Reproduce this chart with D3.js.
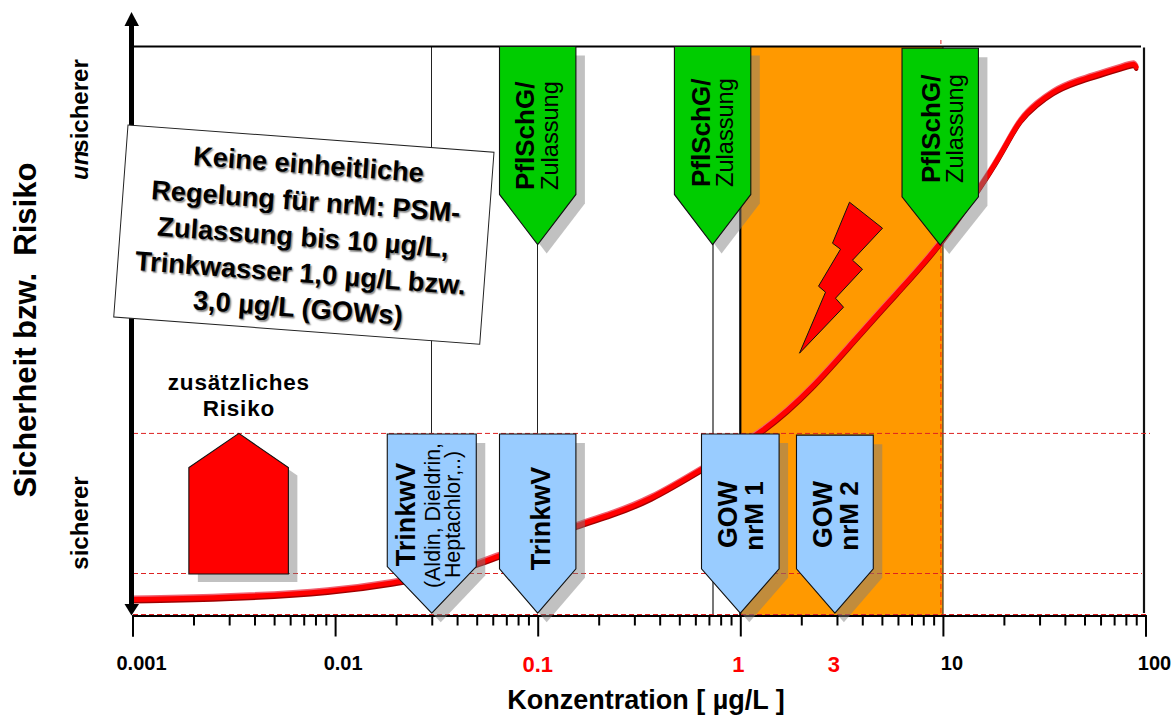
<!DOCTYPE html>
<html><head><meta charset="utf-8">
<script src="https://cdn.jsdelivr.net/npm/d3@7"></script>
<style>
html,body{margin:0;padding:0;background:#fff}
svg{display:block}
text{font-family:"Liberation Sans",Arial,sans-serif;fill:#000}
.b{font-weight:700}
</style></head><body>
<div id="chart"></div>
<script>
// ---- data ----
const curveConc = [0.001,0.003,0.01,0.02,0.03,0.05,0.065,0.1,0.156,0.226,0.358,0.632,1.355,2.29,3.6,5.93,9.6,15.2,17.7,20.7,24,29.1,34.9,42.4,83.8,88,90];
const curveRisk = [2.8,3.1,4.2,5.8,7,8.9,10.6,13,15.9,17.6,20.3,25.5,32.6,40.1,48.1,56.7,64.8,75.2,78.8,83,87.2,90,92,93.6,96.8,97,96.4];
const majorTicks = [0.001,0.01,0.1,1,10,100];
const minorMultiples = [2,3,4,5,6,7,8,9];
const tickLabels = ["0.001","0.01","0.1","1","3","10","100"];
const tickLabelConc = [0.001,0.01,0.1,1,3,10,100];
const tickLabelRed = [false,false,true,true,true,false,false];
const tickLabelDx = [9,8,0,-2,-3,9,9];
const refRisk = [32,7.38,0];
const greenTips = [0.1,0.73,9.7];
const blueTips = [0.03,0.1,1,2.93];
const greenLines = [["PflSchG/","Zulassung"],["PflSchG/","Zulassung"],["PflSchG/","Zulassung"]];
const blueLines = [["TrinkwV","(Aldin, Dieldrin,","Heptachlor,..)"],["TrinkwV"],["GOW","nrM 1"],["GOW","nrM 2"]];
const boxLines = ["Keine einheitliche","Regelung für nrM: PSM-","Zulassung bis 10 µg/L,","Trinkwasser 1,0 µg/L bzw.","3,0 µg/L (GOWs)"];
const thinLineConc = [0.03,0.1,0.73];
const bandConc = [1,10];

const W=1173,H=715;
const svg=d3.select("#chart").append("svg").attr("width",W).attr("height",H);
const x=d3.scaleLog().domain([0.001,100]).range([132.5,1145.5]);
const y=d3.scaleLinear().domain([0,100]).range([615.5,46.5]);
const top_=y(100), bot=y(0);

// orange band
svg.append("rect").attr("x",x(bandConc[0])).attr("y",top_).attr("width",x(bandConc[1])-x(bandConc[0])).attr("height",bot-top_).attr("fill","#ff9900");
svg.append("line").attr("x1",x(1)).attr("x2",x(1)).attr("y1",top_).attr("y2",bot).attr("stroke","#000").attr("stroke-width",2.2);
svg.append("line").attr("x1",x(10)).attr("x2",x(10)).attr("y1",top_).attr("y2",bot).attr("stroke","#6b5a30").attr("stroke-width",1.6);
svg.append("line").attr("x1",x(10)-2).attr("x2",x(10)-2).attr("y1",y(66)).attr("y2",bot).attr("stroke","#ff2a00").attr("stroke-width",1).attr("stroke-dasharray","5 3");
svg.append("line").attr("x1",x(10)-2).attr("x2",x(10)-2).attr("y1",40).attr("y2",44).attr("stroke","#d22").attr("stroke-width",1);

// thin verticals
svg.append("line").attr("x1",x(thinLineConc[0])).attr("x2",x(thinLineConc[0])).attr("y1",top_).attr("y2",y(32)).attr("stroke","#222").attr("stroke-width",1).attr("shape-rendering","crispEdges");
svg.append("line").attr("x1",x(thinLineConc[1])).attr("x2",x(thinLineConc[1])).attr("y1",top_).attr("y2",y(32)).attr("stroke","#222").attr("stroke-width",1).attr("shape-rendering","crispEdges");
svg.append("line").attr("x1",x(thinLineConc[2])).attr("x2",x(thinLineConc[2])).attr("y1",top_).attr("y2",bot).attr("stroke","#777").attr("stroke-width",2).attr("shape-rendering","crispEdges");

// frame
svg.append("line").attr("x1",133).attr("x2",1141).attr("y1",top_).attr("y2",top_).attr("stroke","#000").attr("stroke-width",2);
svg.append("line").attr("x1",1144).attr("x2",1144).attr("y1",top_+1).attr("y2",613).attr("stroke","#111").attr("stroke-width",2.2);

// reference dashed lines
const refEnd=[1150,1142,1146];
refRisk.forEach((r,i)=>{
  svg.append("line").attr("x1",133).attr("x2",refEnd[i]).attr("y1",y(r)-(i==2?1:0)).attr("y2",y(r)-(i==2?1:0))
    .attr("stroke","#d22").attr("stroke-width",1).attr("stroke-dasharray","5 3");
});

// x axis
const minorVals=[];
majorTicks.slice(0,-1).forEach(m=>minorMultiples.forEach(k=>minorVals.push(m*k)));
const gMin=svg.append("g").attr("transform",`translate(0,${bot})`).call(d3.axisBottom(x).tickValues(minorVals).tickSize(10).tickFormat(""));
const gMaj=svg.append("g").attr("transform",`translate(0,${bot})`).call(d3.axisBottom(x).tickValues(majorTicks).tickSize(21).tickFormat(""));
[gMin,gMaj].forEach(g=>{g.selectAll("line").attr("stroke","#000").attr("stroke-width",2);g.select(".domain").attr("stroke","#000").attr("stroke-width",2);});

// curve
const line=d3.line().x((d,i)=>x(curveConc[i])).y((d,i)=>y(curveRisk[i])).curve(d3.curveBasis);
const curveG=svg.append("g").attr("fill","none").attr("stroke-linecap","round").attr("stroke-linejoin","round");
curveG.append("path").attr("d",line(curveRisk)).attr("stroke","#f06070").attr("stroke-width",4).attr("transform","translate(0,-2)");
curveG.append("path").attr("d",line(curveRisk)).attr("stroke","#a00000").attr("stroke-width",4).attr("transform","translate(0,2)");
curveG.append("path").attr("d",line(curveRisk)).attr("stroke","#ff0000").attr("stroke-width",5);

// pentagon helper
function penta(cx,hw,topY,shoulderY,tipY){
  return d3.line()([[cx-hw,topY],[cx+hw,topY],[cx+hw,shoulderY],[cx,tipY],[cx-hw,shoulderY]])+"Z";
}
function drawPenta(d,fill){
  svg.append("path").attr("d",d).attr("fill","#7d7d7d").attr("fill-opacity",.48).attr("transform","translate(9,9)");
  svg.append("path").attr("d",d).attr("fill",fill).attr("stroke","#111").attr("stroke-width",1.1);
}
function vtext(xb,yc,str,size,bold,anchor){
  return svg.append("text").attr("transform",`translate(${xb},${yc}) rotate(-90)`)
    .attr("text-anchor",anchor||"middle").attr("font-size",size).attr("class",bold?"b":null).text(str);
}

// green markers
const gTop=[y(100),y(100),y(99.7)], gTip=[y(65.2),y(65.2),y(65.1)], gShoulder=[y(74),y(74),y(73.6)];
const gText=[[-4,20,190],[-3,20,187],[0,23,183]];
greenTips.forEach((c,i)=>{
  const cx=x(c);
  drawPenta(penta(cx,38.2,gTop[i],gShoulder[i],gTip[i]),"#00cc00");
  vtext(cx+gText[i][0],gText[i][2],greenLines[i][0],26,true,"start");
  vtext(cx+gText[i][1],gText[i][2],greenLines[i][1],23.6,false,"start");
});

// blue markers
const bHalf=[44.5,38.2,38.8,38.4];
const bShoulder=[y(8.6),y(8.2),y(8.2),y(8.2)];
const bTop=[y(31.9),y(31.9),y(31.9),y(31.7)];
blueTips.forEach((c,i)=>{
  drawPenta(penta(x(c),bHalf[i],bTop[i],bShoulder[i],y(0.4)),"#99ccff");
});
{
  const a=x(0.03),b=x(0.1),c=x(1),d=x(2.93);
  vtext(a-17,514.5,blueLines[0][0],27,true);
  vtext(a+8,515.5,blueLines[0][1],21.4,false);
  vtext(a+28,514.5,blueLines[0][2],21.4,false);
  vtext(b+12,518.5,blueLines[1][0],27,true);
  vtext(c-3,514.5,blueLines[2][0],26.8,true);
  vtext(c+23,516,blueLines[2][1],26,true);
  vtext(d-3,514.5,blueLines[3][0],26.8,true);
  vtext(d+23,516,blueLines[3][1],26,true);
}

// house (additional risk)
const houseC=0.00335;
{
  const cx=x(houseC), p=d3.line()([[cx-50,y(7.3)],[cx+49.5,y(7.3)],[cx+49.5,y(26)],[cx,y(32)],[cx-50,y(26)]])+"Z";
  svg.append("path").attr("d",p).attr("fill","#7d7d7d").attr("fill-opacity",.48).attr("transform","translate(9,8)");
  svg.append("path").attr("d",p).attr("fill","#ff0000").attr("stroke","#111").attr("stroke-width",1.1);
  svg.append("text").attr("x",cx).attr("y",390).attr("text-anchor","middle").attr("class","b").attr("font-size",22.5).attr("letter-spacing",.8).text("zusätzliches");
  svg.append("text").attr("x",cx).attr("y",416).attr("text-anchor","middle").attr("class","b").attr("font-size",22.5).attr("letter-spacing",.8).text("Risiko");
}

// lightning bolt: outline relative to its lower tip
const boltTipConc=1.96, boltTipRisk=46.1;
const boltOutline=[[50,-151],[83,-125],[53,-93],[63,-84],[36,-55],[44,-46],[0,0],[26,-61],[19,-67],[41,-104],[33,-110]];
{
  const bx=x(boltTipConc), by=y(boltTipRisk);
  svg.append("path").attr("d",d3.line().x(d=>bx+d[0]).y(d=>by+d[1])(boltOutline)+"Z").attr("fill","#ff0000").attr("stroke","#111").attr("stroke-width",1);
}

// y axis with arrows
svg.append("line").attr("x1",131.5).attr("x2",131.5).attr("y1",20).attr("y2",608).attr("stroke","#000").attr("stroke-width",5);
svg.append("path").attr("d","M131.5,12L139,26H124.5Z").attr("fill","#000");
svg.append("path").attr("d","M131.5,615.5L139,604H124.5Z").attr("fill","#000");

// statement box
{
  const g=svg.append("g").attr("transform","translate(128,125) rotate(4.25)");
  g.append("rect").attr("width",367).attr("height",192.5).attr("fill","#fff").attr("stroke","#222").attr("stroke-width",1);
  const ys=[35,72,108,144,179];
  boxLines.forEach((t,i)=>{
    g.append("text").attr("x",183).attr("y",ys[i]).attr("text-anchor","middle").attr("class","b").attr("font-size",27.2)
     .style("text-shadow","1.5px 1.5px 1.5px #888").text(t);
  });
}

// tick labels
tickLabels.forEach((t,i)=>{
  svg.append("text").attr("x",x(tickLabelConc[i])+tickLabelDx[i]).attr("y",tickLabelRed[i]?672:670).attr("text-anchor","middle").attr("class","b")
    .attr("font-size",tickLabelRed[i]?22:20).style("fill",tickLabelRed[i]?"#ff0000":"#000").text(t);
});
svg.append("text").attr("x",646).attr("y",709).attr("text-anchor","middle").attr("class","b").attr("font-size",27).text("Konzentration [ µg/L ]");

// y labels
vtext(36,330,"Sicherheit bzw.\u00a0\u00a0Risiko",31,true);
const un=svg.append("text").attr("transform","translate(88,180) rotate(-90)").attr("class","b").attr("font-size",24);
un.append("tspan").attr("font-style","italic").text("un");
un.append("tspan").attr("dx",-2).text("sicherer");
vtext(88,523,"sicherer",24,true);
</script>
</body></html>
